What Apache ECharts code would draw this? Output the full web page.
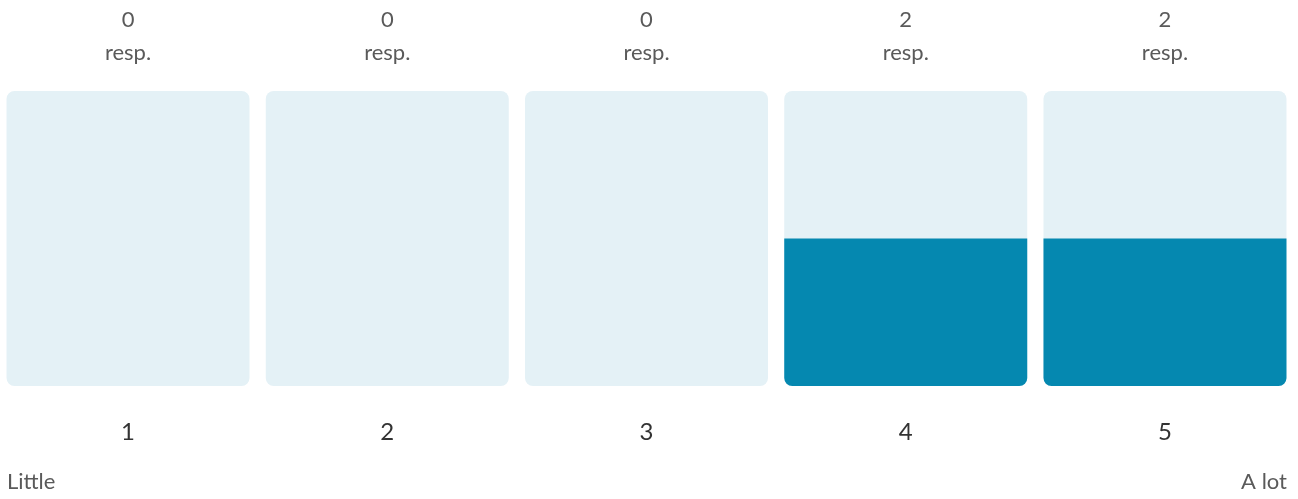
<!DOCTYPE html>
<html>
<head>
<meta charset="utf-8">
<script src="https://cdn.jsdelivr.net/npm/echarts@6/dist/echarts.min.js"></script>
<style>
  html, body { margin: 0; padding: 0; background: #ffffff; }
  #chart { width: 1298px; height: 499px; }
</style>
</head>
<body>
<div id="chart"></div>
<script>
// Scale points and the number of responses for each
const categories = ['1', '2', '3', '4', '5'];
const responses = [0, 0, 0, 2, 2];
const scaleMax = 4;
const lowLabel = 'Little';
const highLabel = 'A lot';

const FONT = '"Source Sans Pro", Lato, sans-serif';

const chart = echarts.init(document.getElementById('chart'), null, { renderer: 'canvas' });

chart.setOption({
  animation: false,
  textStyle: { fontFamily: FONT },
  grid: {
    left: -1.6, right: 3.4, top: 91, bottom: 113,
    containLabel: false, outerBoundsMode: 'none'
  },
  xAxis: [
    {
      type: 'category',
      data: categories,
      position: 'bottom',
      axisLine: { show: false },
      axisTick: { show: false },
      axisLabel: { fontSize: 24, lineHeight: 28, color: '#333333', margin: 32, fontFamily: FONT }
    },
    {
      type: 'category',
      data: responses.map(String),
      position: 'top',
      axisLine: { show: false },
      axisTick: { show: false },
      axisLabel: {
        fontSize: 22, lineHeight: 33, color: '#5a5a5a', margin: 22, fontFamily: FONT,
        formatter: v => v + '\nresp.'
      }
    }
  ],
  yAxis: {
    type: 'value',
    min: 0,
    max: scaleMax,
    show: false,
    splitLine: { show: false }
  },
  series: [{
    type: 'bar',
    data: responses,
    barWidth: 243,
    showBackground: true,
    backgroundStyle: { color: '#e4f1f6', borderRadius: 8 },
    itemStyle: { color: '#0588b0', borderRadius: [0, 0, 8, 8] }
  }],
  graphic: [
    {
      type: 'text', left: 7, top: 471,
      style: { text: lowLabel, fontSize: 22, fill: '#5a5a5a', fontFamily: FONT }
    },
    {
      type: 'text', right: 11, top: 471,
      style: { text: highLabel, fontSize: 22, fill: '#5a5a5a', fontFamily: FONT }
    }
  ]
});
</script>
</body>
</html>
